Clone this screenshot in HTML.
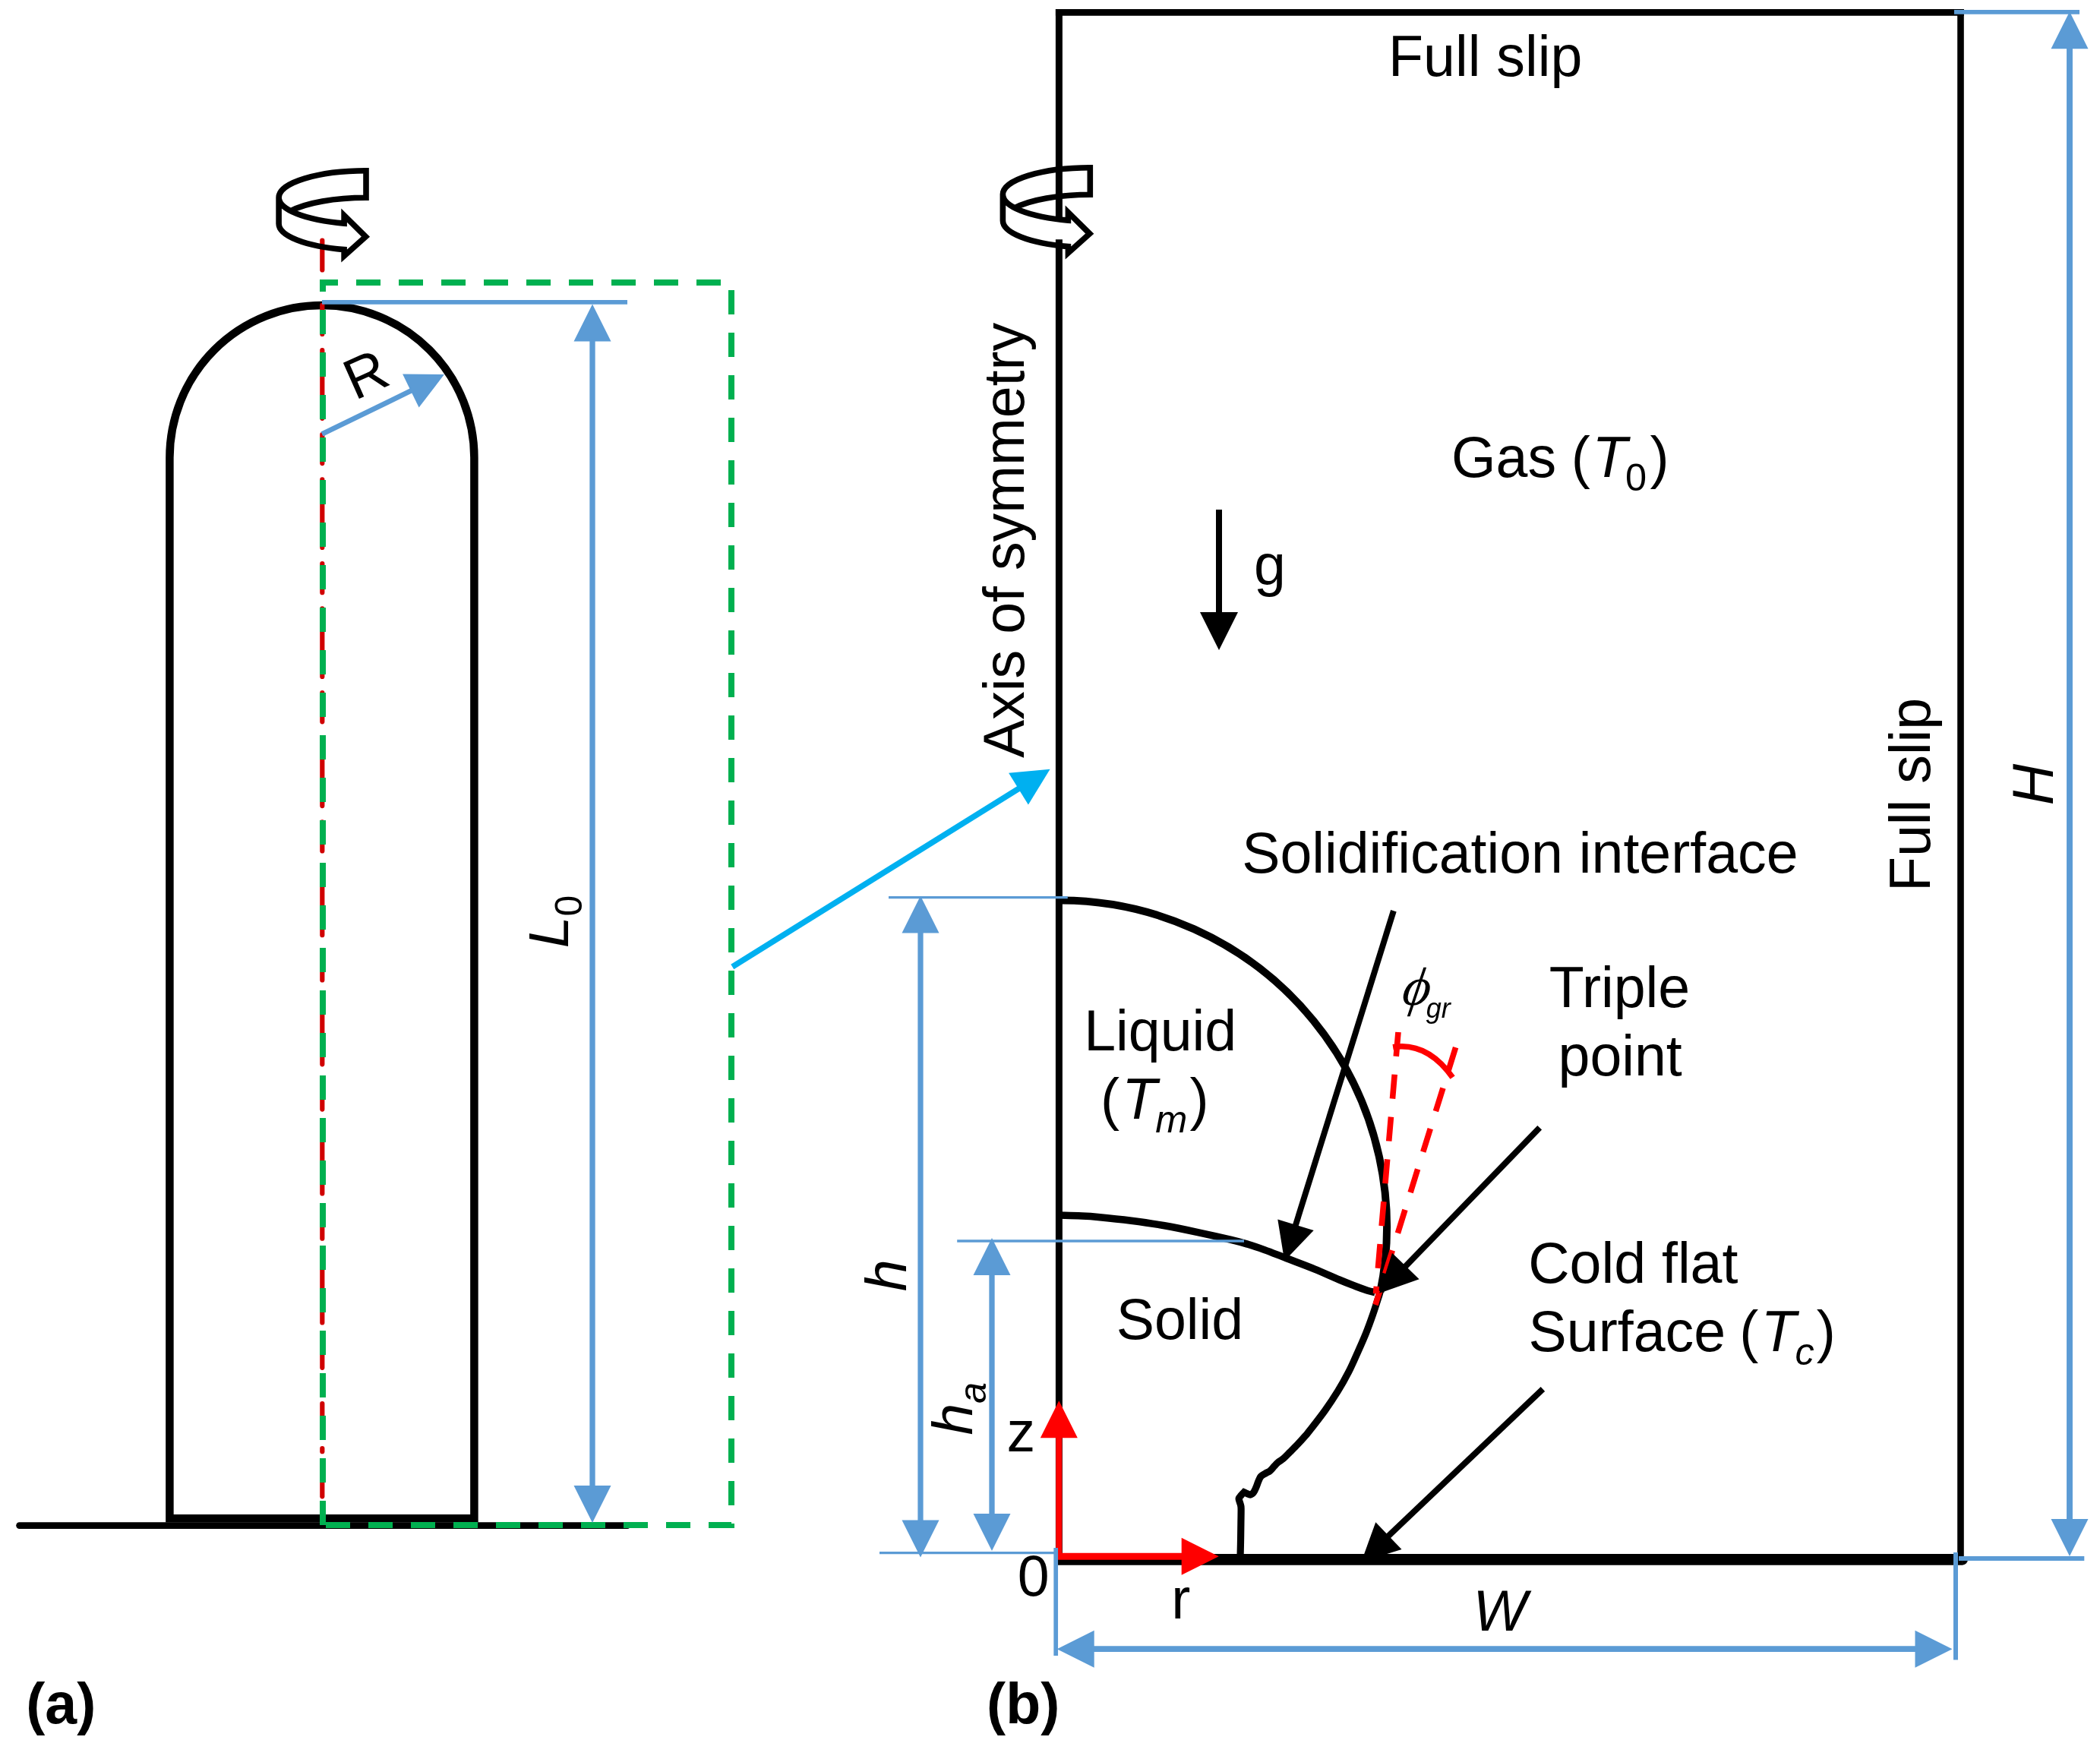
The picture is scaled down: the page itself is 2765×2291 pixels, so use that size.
<!DOCTYPE html>
<html><head><meta charset="utf-8"><title>Figure</title>
<style>
html,body{margin:0;padding:0;background:#fff;}
svg{display:block;will-change:transform;}
text{font-family:"Liberation Sans",sans-serif;fill:#000;}
</style></head><body>
<svg width="2765" height="2291" viewBox="0 0 2765 2291">
<rect width="2765" height="2291" fill="#fff"/>
<line x1="25.5" y1="2008.6" x2="826.0" y2="2008.6" stroke="#000" stroke-width="8.6" stroke-linecap="round"/>
<path d="M223.4,1999.3 L223.4,602.5 A200.5,200.5 0 0 1 624.4,602.5 L624.4,1999.3 Z" fill="none" stroke="#000" stroke-width="10.5" stroke-linejoin="miter"/>
<line x1="424.3" y1="316.5" x2="424.3" y2="355.5" stroke="#D00000" stroke-width="6.2" stroke-linecap="round"/>
<path d="M424.3,401.9 L424.3,1802" fill="none" stroke="#D00000" stroke-width="6.2" stroke-linecap="round" stroke-dasharray="38.1 21.2 89.6 21.2"/>
<line x1="424.3" y1="1848.1" x2="424.3" y2="1886.2" stroke="#D00000" stroke-width="6.2" stroke-linecap="round"/>
<line x1="424.3" y1="1907.1" x2="424.3" y2="1911.2" stroke="#D00000" stroke-width="6.2" stroke-linecap="round"/>
<line x1="424.3" y1="1931.9" x2="424.3" y2="1970.3" stroke="#D00000" stroke-width="6.2" stroke-linecap="round"/>
<line x1="424.3" y1="1991.1" x2="424.3" y2="1999.9" stroke="#D00000" stroke-width="6.2" stroke-linecap="round"/>
<path d="M425,2008 L425,372 L963,372 L963,2008 Z" fill="none" stroke="#00B050" stroke-width="8" stroke-dasharray="32 24"/>
<line x1="424.0" y1="397.9" x2="826.0" y2="397.9" stroke="#5B9BD5" stroke-width="5.8" />
<g fill="#5B9BD5" stroke="none"><polygon points="780.0,2005.0 755.5,1956.0 804.5,1956.0"/><polygon points="780.0,400.5 804.5,449.5 755.5,449.5"/><line x1="780.0" y1="1959.0" x2="780.0" y2="446.5" stroke="#5B9BD5" stroke-width="7.3"/></g>
<g fill="#5B9BD5" stroke="none"><polygon points="584.9,493.1 551.6,536.6 530.1,492.6"/><line x1="424.0" y1="571.6" x2="543.6" y2="513.3" stroke="#5B9BD5" stroke-width="6.7"/></g>
<g id="ic" fill="none" stroke="#000" stroke-width="7.6" stroke-linejoin="miter" stroke-miterlimit="10">
<path d="M482,224.8 A114.9,35.2 0 0 0 367.1,260 L367.1,294.5 A114.9,35.2 0 0 0 453.1,328.6 L453.1,337.1 L481.5,311.7 L453.1,283.6 L453.1,294.1 A114.9,35.2 0 0 1 367.1,260"/>
<path d="M482,221 L482,260.3 A114.9,35.2 0 0 0 382.5,277.9"/>
</g>
<g fill="#00B0F0" stroke="none"><polygon points="1382.6,1012.7 1353.9,1059.4 1328.1,1017.8"/><line x1="964.3" y1="1272.9" x2="1343.5" y2="1037.0" stroke="#00B0F0" stroke-width="7.7"/></g>
<line x1="1389.9" y1="16.3" x2="2585.8" y2="16.3" stroke="#000" stroke-width="8.7" />
<line x1="1394.4" y1="12.0" x2="1394.4" y2="289.7" stroke="#000" stroke-width="9.0" />
<line x1="1394.4" y1="315.2" x2="1394.4" y2="2047.0" stroke="#000" stroke-width="9.0" />
<line x1="2581.5" y1="12.0" x2="2581.5" y2="2054.0" stroke="#000" stroke-width="8.6" />
<line x1="1392.8" y1="2053.4" x2="2583.7" y2="2053.4" stroke="#000" stroke-width="14.6" />
<path d="M2583.2,2053.4 L2591,2053.4 A7.3,7.3 0 0 1 2583.7,2060.7 L2583.2,2060.7 Z" fill="#000"/>
<use href="#ic" transform="translate(953.3,-4)"/>
<path d="M1397.5,1185.5 A430,430 0 0 1 1817.4,1701.0" fill="none" stroke="#000" stroke-width="10"/>
<path d="M1394.5,1600.0 C1398.8,1600.1 1411.5,1600.4 1420.0,1600.8 C1428.5,1601.2 1434.1,1601.3 1445.7,1602.4 C1457.3,1603.5 1474.9,1605.3 1489.5,1607.2 C1504.1,1609.1 1518.7,1611.2 1533.3,1613.8 C1547.9,1616.4 1562.6,1619.5 1577.2,1622.6 C1591.8,1625.7 1610.0,1629.8 1621.0,1632.4 C1632.0,1635.0 1635.6,1636.1 1642.9,1638.3 C1650.2,1640.5 1656.4,1642.6 1664.8,1645.6 C1673.2,1648.6 1682.3,1652.3 1693.3,1656.5 C1704.2,1660.7 1718.8,1666.0 1730.5,1670.8 C1742.2,1675.5 1754.3,1681.2 1763.4,1685.0 C1772.5,1688.8 1779.1,1691.4 1785.3,1693.8 C1791.5,1696.2 1796.4,1697.9 1800.6,1699.2 C1804.8,1700.5 1808.8,1701.2 1810.5,1701.6" fill="none" stroke="#000" stroke-width="9.5"/>
<path d="M1817.6,1699.0 C1817.3,1700.0 1817.6,1700.0 1815.9,1705.3 C1814.2,1710.6 1810.6,1722.2 1807.7,1730.6 C1804.8,1739.0 1801.8,1747.4 1798.4,1755.8 C1795.0,1764.2 1791.2,1772.7 1787.4,1781.1 C1783.6,1789.5 1780.0,1798.0 1775.7,1806.4 C1771.4,1814.8 1766.7,1823.3 1761.5,1831.7 C1756.3,1840.1 1750.7,1848.6 1744.7,1857.0 C1738.7,1865.4 1729.8,1876.7 1725.5,1882.2 C1721.2,1887.8 1721.7,1887.0 1718.9,1890.3 C1716.1,1893.5 1712.0,1898.1 1708.6,1901.7 C1705.2,1905.3 1701.4,1909.0 1698.3,1912.1 C1695.2,1915.2 1692.6,1918.1 1690.0,1920.3 C1687.4,1922.5 1684.8,1923.8 1682.7,1925.5 C1680.6,1927.2 1679.3,1928.9 1677.6,1930.7 C1675.9,1932.5 1674.3,1934.9 1672.4,1936.4 C1670.5,1938.0 1668.3,1938.7 1666.2,1940.0 C1664.1,1941.3 1661.5,1942.4 1660.0,1944.1 C1658.5,1945.8 1657.9,1947.9 1656.9,1950.3 C1655.9,1952.7 1654.8,1956.2 1653.8,1958.6 C1652.8,1961.0 1651.9,1963.2 1650.7,1964.8 C1649.5,1966.4 1648.0,1967.7 1646.5,1968.0 C1645.0,1968.3 1643.4,1967.1 1642.0,1966.6 C1640.6,1966.0 1638.7,1965.0 1638.0,1964.7 C1637.3,1965.5 1634.9,1968.0 1633.8,1969.3 C1632.7,1970.6 1631.5,1971.6 1631.2,1972.8 C1630.9,1974.0 1631.6,1975.2 1631.9,1976.5 C1632.2,1977.8 1632.8,1978.9 1633.2,1980.5 C1633.6,1982.1 1634.0,1982.1 1634.1,1986.0 C1634.2,1989.9 1634.0,1997.6 1633.9,2004.1 C1633.8,2010.6 1633.7,2017.6 1633.6,2024.8 C1633.5,2032.0 1633.2,2043.3 1633.1,2047.0" fill="none" stroke="#000" stroke-width="9.2" stroke-linejoin="miter" stroke-miterlimit="6"/>
<path d="M1841,1359 L1811.5,1703.4" fill="none" stroke="#FF0000" stroke-width="7.6" stroke-dasharray="32 24"/>
<path d="M1916.6,1379.1 L1811,1718" fill="none" stroke="#FF0000" stroke-width="7.6" stroke-dasharray="32 24"/>
<path d="M1834.1,1378.7 C1863.4,1374.1 1889.9,1386.8 1912.6,1418.6" fill="none" stroke="#FF0000" stroke-width="7.6"/>
<g fill="#000" stroke="none"><polygon points="1691.2,1660.2 1682.3,1605.4 1729.7,1620.1"/><line x1="1834.9" y1="1199.2" x2="1705.1" y2="1615.6" stroke="#000" stroke-width="7.9"/></g>
<g fill="#000" stroke="none"><polygon points="1816.2,1702.7 1833.0,1649.8 1868.6,1684.2"/><line x1="2027.2" y1="1484.8" x2="1848.7" y2="1669.2" stroke="#000" stroke-width="8.0"/></g>
<g fill="#000" stroke="none"><polygon points="1792.4,2056.4 1811.3,2004.2 1845.5,2040.1"/><line x1="2031.4" y1="1829.0" x2="1826.2" y2="2024.2" stroke="#000" stroke-width="8.0"/></g>
<g fill="#000" stroke="none"><polygon points="1605.0,856.0 1580.0,806.0 1630.0,806.0"/><line x1="1605.0" y1="671.0" x2="1605.0" y2="809.0" stroke="#000" stroke-width="8.0"/></g>
<line x1="1170.0" y1="1181.6" x2="1405.8" y2="1181.6" stroke="#5B9BD5" stroke-width="3.2" />
<line x1="1260.2" y1="1634.0" x2="1638.0" y2="1634.0" stroke="#5B9BD5" stroke-width="3.5" />
<line x1="1158.0" y1="2044.7" x2="1393.6" y2="2044.7" stroke="#5B9BD5" stroke-width="3.2" />
<line x1="2573.0" y1="15.9" x2="2738.0" y2="15.9" stroke="#5B9BD5" stroke-width="5.6" />
<line x1="2579.0" y1="2052.0" x2="2744.3" y2="2052.0" stroke="#5B9BD5" stroke-width="5.8" />
<g fill="#5B9BD5" stroke="none"><polygon points="2725.0,2049.0 2700.5,2000.0 2749.5,2000.0"/><polygon points="2725.0,15.3 2749.5,64.3 2700.5,64.3"/><line x1="2725.0" y1="2003.0" x2="2725.0" y2="61.3" stroke="#5B9BD5" stroke-width="7.9"/></g>
<g fill="#5B9BD5" stroke="none"><polygon points="1391.7,2171.2 1440.7,2146.7 1440.7,2195.7"/><polygon points="2570.5,2171.2 2521.5,2195.7 2521.5,2146.7"/><line x1="1437.7" y1="2171.2" x2="2524.5" y2="2171.2" stroke="#5B9BD5" stroke-width="7.7"/></g>
<g fill="#5B9BD5" stroke="none"><polygon points="1212.0,2050.5 1187.5,2001.5 1236.5,2001.5"/><polygon points="1212.0,1179.5 1236.5,1228.5 1187.5,1228.5"/><line x1="1212.0" y1="2004.5" x2="1212.0" y2="1225.5" stroke="#5B9BD5" stroke-width="7.2"/></g>
<g fill="#5B9BD5" stroke="none"><polygon points="1306.0,2042.0 1281.5,1993.0 1330.5,1993.0"/><polygon points="1306.0,1630.1 1330.5,1679.1 1281.5,1679.1"/><line x1="1306.0" y1="1996.0" x2="1306.0" y2="1676.1" stroke="#5B9BD5" stroke-width="7.3"/></g>
<g fill="#FF0000" stroke="none"><polygon points="1394.3,1844.2 1418.8,1893.2 1369.8,1893.2"/><line x1="1394.3" y1="2046.0" x2="1394.3" y2="1890.2" stroke="#FF0000" stroke-width="8.2"/></g>
<g fill="#FF0000" stroke="none"><polygon points="1604.7,2049.3 1555.7,2073.8 1555.7,2024.8"/><line x1="1390.4" y1="2049.3" x2="1558.7" y2="2049.3" stroke="#FF0000" stroke-width="8.9"/></g>
<line x1="1390.2" y1="2037.9" x2="1390.2" y2="2180.0" stroke="#5B9BD5" stroke-width="5.7" />
<line x1="2575.0" y1="2044.0" x2="2575.0" y2="2185.6" stroke="#5B9BD5" stroke-width="6.0" />
<text x="1828.1" y="99.7" font-size="75.3" text-anchor="start">Full slip</text>
<text x="34.2" y="2269.3" font-size="75.3" font-weight="bold" text-anchor="start">(a)</text>
<text x="1299.1" y="2269.3" font-size="75.3" font-weight="bold" text-anchor="start">(b)</text>
<text x="1651.1" y="770.0" font-size="75.3" text-anchor="start">g</text>
<text x="1325.6" y="1910.6" font-size="75.3" text-anchor="start">z</text>
<text x="1339.8" y="2100.5" font-size="75.3" text-anchor="start">0</text>
<text x="1542.3" y="2131.3" font-size="75.3" text-anchor="start">r</text>
<text x="1939.6" y="2147.1" font-size="75.3" font-style="italic" text-anchor="start">W</text>
<text x="1427.2" y="1382.8" font-size="75.3" text-anchor="start">Liquid</text>
<text x="1469.7" y="1763.0" font-size="75.3" text-anchor="start">Solid</text>
<text x="1635.2" y="1149.4" font-size="75.3" text-anchor="start">Solidification interface</text>
<text x="2039.7" y="1326.4" font-size="75.3" text-anchor="start">Triple</text>
<text x="2051.5" y="1416.4" font-size="75.3" text-anchor="start">point</text>
<text x="2012.2" y="1688.5" font-size="75.3" text-anchor="start">Cold flat</text>
<text x="1911.0" y="628.2" font-size="75.3" text-anchor="start">Gas</text>
<text x="2068.8" y="628.2" font-size="75.3" text-anchor="start">(</text>
<text x="2096.6" y="628.2" font-size="75.3" font-style="italic" text-anchor="start">T</text>
<text x="2140.1" y="646.0" font-size="50.5" text-anchor="start">0</text>
<text x="2172.4" y="628.2" font-size="75.3" text-anchor="start">)</text>
<text x="1449.1" y="1472.8" font-size="75.3" text-anchor="start">(</text>
<text x="1477.2" y="1472.8" font-size="75.3" font-style="italic" text-anchor="start">T</text>
<text x="1521.2" y="1490.9" font-size="50.5" font-style="italic" text-anchor="start">m</text>
<text x="1566.6" y="1472.8" font-size="75.3" text-anchor="start">)</text>
<text x="2012.6" y="1779.3" font-size="75.3" text-anchor="start">Surface</text>
<text x="2290.2" y="1779.3" font-size="75.3" text-anchor="start">(</text>
<text x="2318.8" y="1779.3" font-size="75.3" font-style="italic" text-anchor="start">T</text>
<text x="2363.4" y="1797.2" font-size="50.5" font-style="italic" text-anchor="start">c</text>
<text x="2391.7" y="1779.3" font-size="75.3" text-anchor="start">)</text>
<text x="0.0" y="0.0" font-size="75.3" text-anchor="start" transform="translate(1348.4,998.0) rotate(-90)">Axis of symmetry</text>
<text x="0.0" y="0.0" font-size="75.3" text-anchor="start" transform="translate(2540.8,1174.0) rotate(-90)">Full slip</text>
<text x="0.0" y="0.0" font-size="75.3" font-style="italic" text-anchor="start" transform="translate(2703.0,1060.3) rotate(-90)">H</text>
<text x="0.0" y="0.0" font-size="75.3" font-style="italic" text-anchor="start" transform="translate(1193.1,1700.3) rotate(-90)">h</text>
<text x="0.0" y="0.0" font-size="75" transform="translate(1279.8,1889.5) rotate(-90)"><tspan font-size="75" font-style="italic" dy="0.0">h</tspan><tspan font-size="50" font-style="italic" dy="17.9">a</tspan></text>
<text x="0.0" y="0.0" font-size="75" transform="translate(748.0,1248.3) rotate(-90)"><tspan font-size="75" font-style="italic" dy="0.0">L</tspan><tspan font-size="50" dy="17.9">0</tspan></text>
<text x="0.0" y="0.0" font-size="75.3" text-anchor="start" transform="translate(467.2,527.5) rotate(-24)">R</text>
<text transform="translate(1844.3,1322.8) skewX(-9)" x="0" y="0" style="font-family:'Liberation Serif',serif;font-style:italic;font-size:71px">ϕ</text>
<g opacity="0.999">
<text x="1877.7" y="1339.7" font-size="36" font-style="italic" text-anchor="start">gr</text>
</g>
</svg>
</body></html>
